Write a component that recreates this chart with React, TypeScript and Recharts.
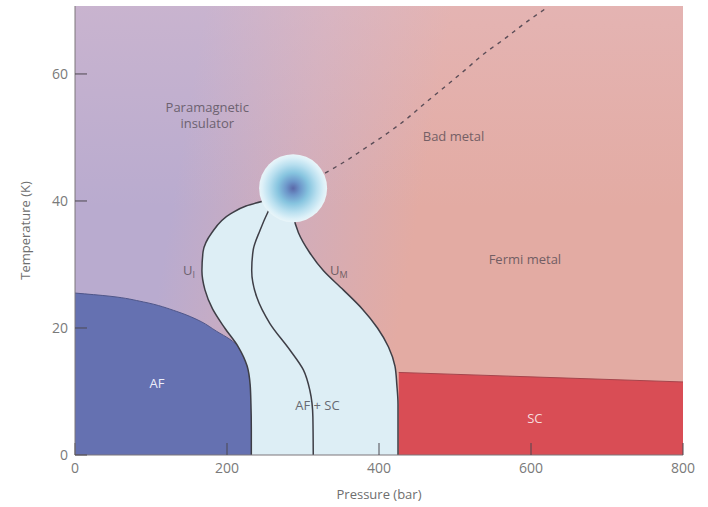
import {
  ComposedChart,
  Area,
  Line,
  XAxis,
  YAxis,
  ReferenceArea,
  ReferenceDot,
} from "recharts";

const FONT = '"Open Sans", sans-serif';

// axis ticks
const pressureTicks = [0, 200, 400, 600, 800];
const tempTicks = [0, 20, 40, 60];
const T_MAX = 70.7;

// temperature levels (K) shared by the two crossover lines U_I and U_M
const bandT = [0, 4, 8, 11, 14, 17, 20, 23, 26, 29, 32, 35, 38, 39.2, 40];
// pressure (bar) of U_I at each level
const uiP = [232, 232, 231.5, 230.5, 226.5, 215, 197, 181, 171, 167, 168.5, 180, 205, 225, 248];
// pressure (bar) of U_M at each level
const umP = [425, 425, 425, 423.5, 421, 412.5, 398, 378, 353, 327, 308, 294, 287, 286, 286];

// line running through the AF + SC band
const midT = [0, 6, 10.2, 13.4, 16.5, 20.7, 24.9, 29.1, 32.3, 35.4, 38.3, 39.5];
const midP = [313.5, 313, 309, 300.5, 283, 256.5, 239, 232.5, 234.5, 243.5, 254, 259];

// antiferromagnetic dome edge
const afT = [0, 4, 8, 11, 14, 17, 18.2, 19.5, 21, 22.6, 24.1, 25, 25.5];
const afP = [233, 233, 232.5, 231.5, 227.5, 216, 204, 186, 166, 134, 90, 46, 0];

// superconducting region: pressure span at each temperature
const scT = [0, 11.5, 13];
const scLow = [426, 426, 426];
const scHigh = [800, 800, 426];

// dashed crossover above the critical point
const dashT = [44.4, 46.2, 48.3, 50.4, 52.7, 55.4, 58, 60.6, 63.3, 65.6, 68, 70.6];
const dashP = [329, 355, 381.6, 408, 434, 460.5, 487, 513, 539.5, 566, 592, 623];

// critical end point
const critP = 287;
const critT = 42;

// region labels
const labels = [
  { text: "Paramagnetic", p: 174, T: 54.8, color: "#6d6270" },
  { text: "insulator", p: 174, T: 52.2, color: "#6d6270" },
  { text: "Bad metal", p: 498, T: 50.2, color: "#755f65" },
  { text: "Fermi metal", p: 592, T: 30.9, color: "#725e64" },
  { text: "AF", p: 108, T: 11.3, color: "#eceefa" },
  { text: "AF + SC", p: 319, T: 7.9, color: "#676a72" },
  { text: "SC", p: 605, T: 5.8, color: "#f6dcdd" },
];
const subLabels = [
  { main: "U", sub: "I", p: 150, T: 29.1, color: "#6d6270" },
  { main: "U", sub: "M", p: 347, T: 29.1, color: "#725e64" },
];

const band = bandT.map((T, i) => ({ T, span: [uiP[i], umP[i]] }));
const uiLine = bandT.map((T, i) => ({ T, p: uiP[i] }));
const umLine = bandT.map((T, i) => ({ T, p: umP[i] }));
const midLine = midT.map((T, i) => ({ T, p: midP[i] }));
const afArea = afT.map((T, i) => ({ T, p: afP[i] }));
const scArea = scT.map((T, i) => ({ T, span: [scLow[i], scHigh[i]] }));
const scEdge = scT.slice(1).map((T, i) => ({ T, p: scHigh[i + 1] }));
const dashLine = dashT.map((T, i) => ({ T, p: dashP[i] }));

const PlainText = ({ cx, cy, text, color }: any) => (
  <text
    x={cx}
    y={cy}
    textAnchor="middle"
    dominantBaseline="central"
    fill={color}
    fontSize={13}
    fontFamily={FONT}
  >
    {text}
  </text>
);

const SubText = ({ cx, cy, main, sub, color }: any) => (
  <text
    x={cx}
    y={cy}
    textAnchor="middle"
    dominantBaseline="central"
    fill={color}
    fontSize={13}
    fontFamily={FONT}
  >
    <tspan>{main}</tspan>
    <tspan fontSize={9} dy={4}>
      {sub}
    </tspan>
  </text>
);

const App = () => {
  return (
    <div style={{ width: 708, height: 507 }}>
      <style>{`body { margin: 0; }`}</style>
      <ComposedChart
        layout="vertical"
        width={708}
        height={507}
        margin={{ top: 6, right: 25, bottom: 12, left: 0 }}
      >
        <defs>
          <linearGradient
            id="bgTone"
            gradientUnits="userSpaceOnUse"
            x1={190}
            y1={100}
            x2={430}
            y2={140}
          >
            <stop offset="0" stopColor="#b9abcf" />
            <stop offset="0.5" stopColor="#d1adbb" />
            <stop offset="1" stopColor="#e3aba3" />
          </linearGradient>
          <linearGradient id="bgTop" x1="0" y1="0" x2="0" y2="1">
            <stop offset="0" stopColor="#e6c4cf" stopOpacity={0.35} />
            <stop offset="0.45" stopColor="#e6c4cf" stopOpacity={0} />
          </linearGradient>
          <radialGradient id="critGlow" cx="0.5" cy="0.5" r="0.5">
            <stop offset="0" stopColor="#5a68a8" />
            <stop offset="0.2" stopColor="#6c95c9" />
            <stop offset="0.45" stopColor="#86c4df" />
            <stop offset="0.7" stopColor="#b8dfef" />
            <stop offset="0.9" stopColor="#dcf0f8" />
            <stop offset="1" stopColor="#e9f5f9" />
          </radialGradient>
        </defs>

        <ReferenceArea x1={0} x2={800} y1={0} y2={T_MAX} fill="url(#bgTone)" fillOpacity={1} stroke="none" />
        <ReferenceArea x1={0} x2={800} y1={0} y2={T_MAX} fill="url(#bgTop)" fillOpacity={1} stroke="none" />

        <Area
          data={afArea}
          dataKey="p"
          type="monotone"
          fill="#6571b1"
          fillOpacity={1}
          stroke="#4f5689"
          strokeWidth={1}
          isAnimationActive={false}
        />
        <Area
          data={scArea}
          dataKey="span"
          type="linear"
          fill="#d94d55"
          fillOpacity={1}
          stroke="none"
          isAnimationActive={false}
        />
        <Line
          data={scEdge}
          dataKey="p"
          type="linear"
          stroke="#a6454c"
          strokeWidth={1}
          dot={false}
          isAnimationActive={false}
        />
        <Area
          data={band}
          dataKey="span"
          type="monotone"
          fill="#ddeef5"
          fillOpacity={1}
          stroke="none"
          isAnimationActive={false}
        />

        <Line data={uiLine} dataKey="p" type="monotone" stroke="#3e3e46" strokeWidth={1.5} dot={false} isAnimationActive={false} />
        <Line data={midLine} dataKey="p" type="monotone" stroke="#3e3e46" strokeWidth={1.5} dot={false} isAnimationActive={false} />
        <Line data={umLine} dataKey="p" type="monotone" stroke="#3e3e46" strokeWidth={1.5} dot={false} isAnimationActive={false} />
        <Line
          data={dashLine}
          dataKey="p"
          type="monotone"
          stroke="#5b4d57"
          strokeWidth={1.4}
          strokeDasharray="4 5"
          dot={false}
          isAnimationActive={false}
        />

        <ReferenceDot x={critP} y={critT} r={34} fill="url(#critGlow)" stroke="none" />

        {labels.map((l) => (
          <ReferenceDot
            key={l.text}
            x={l.p}
            y={l.T}
            r={1}
            shape={(props: any) => <PlainText cx={props.cx} cy={props.cy} text={l.text} color={l.color} />}
          />
        ))}
        {subLabels.map((l) => (
          <ReferenceDot
            key={l.main + l.sub}
            x={l.p}
            y={l.T}
            r={1}
            shape={(props: any) => (
              <SubText cx={props.cx} cy={props.cy} main={l.main} sub={l.sub} color={l.color} />
            )}
          />
        ))}

        <XAxis
          type="number"
          domain={[0, 800]}
          ticks={pressureTicks}
          allowDataOverflow
          height={40}
          tickSize={-12}
          tickMargin={20}
          tick={{ fill: "#7a7a7a", fontSize: 14, fontFamily: FONT }}
          tickLine={{ stroke: "#4d4850" }}
          axisLine={{ stroke: "#7c767b" }}
          label={{
            value: "Pressure (bar)",
            position: "insideBottom",
            offset: -4,
            fill: "#6e6e6e",
            fontSize: 13,
            fontFamily: FONT,
          }}
        />
        <YAxis
          type="number"
          dataKey="T"
          domain={[0, T_MAX]}
          ticks={tempTicks}
          reversed
          allowDataOverflow
          width={75}
          tickSize={-12}
          tickMargin={19}
          tick={{ fill: "#7a7a7a", fontSize: 14, fontFamily: FONT }}
          tickLine={{ stroke: "#4d4850" }}
          axisLine={{ stroke: "#7c767b" }}
          label={{
            value: "Temperature (K)",
            angle: -90,
            position: "insideLeft",
            offset: 25,
            style: { textAnchor: "middle" },
            fill: "#6e6e6e",
            fontSize: 13,
            fontFamily: FONT,
          }}
        />
        <XAxis
          xAxisId="frame"
          orientation="top"
          type="number"
          domain={[0, 800]}
          height={0}
          tick={false}
          tickLine={false}
          axisLine={{ stroke: "#6a6469" }}
        />
        <YAxis
          yAxisId="frame"
          orientation="right"
          type="number"
          domain={[0, T_MAX]}
          width={0}
          tick={false}
          tickLine={false}
          axisLine={{ stroke: "#7c767b" }}
        />
      </ComposedChart>
    </div>
  );
};

export default App;
